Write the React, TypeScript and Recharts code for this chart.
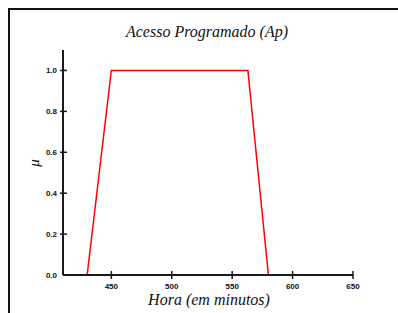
import React from 'react';
import { LineChart, Line, XAxis, YAxis } from 'recharts';

const horaPoints = [430, 450, 563, 580];
const muValues = [0, 1, 1, 0];
const xTicks = [450, 500, 550, 600, 650];
const yTicks = [0, 0.2, 0.4, 0.6, 0.8, 1.0];

const data = horaPoints.map((h, i) => ({ hora: h, mu: muValues[i] }));

const AXIS = '#1a1a1a';
const sans = "'Liberation Sans', Arial, sans-serif";
const serif = "'Liberation Serif', 'Times New Roman', serif";

const XTick = (props: any) => {
  const { x, y, payload } = props;
  return (
    <g>
      <line x1={x} x2={x} y1={y - 4} y2={y + 4} stroke={AXIS} strokeWidth={1.5} />
      <text x={x} y={y + 14} textAnchor="middle" fill="#111" fontFamily={sans} fontSize={8} fontWeight={700}>
        {payload.value}
      </text>
    </g>
  );
};

const YTick = (props: any) => {
  const { x, y, payload } = props;
  return (
    <g>
      {payload.value > 0 && <line x1={x - 3} x2={x + 4} y1={y} y2={y} stroke={AXIS} strokeWidth={1.5} />}
      <text x={x - 6} y={y + 3} textAnchor="end" fill="#111" fontFamily={sans} fontSize={8} fontWeight={700}>
        {Number(payload.value).toFixed(1)}
      </text>
    </g>
  );
};

const App: React.FC = () => {
  return (
    <div style={{ position: 'absolute', left: 0, top: 0, width: 398, height: 313, background: '#fff' }}>
      <div
        style={{
          position: 'absolute',
          left: 8,
          top: 8,
          right: 0,
          bottom: 0,
          borderLeft: '2px solid #111',
          borderTop: '2px solid #111',
        }}
      />
      <LineChart
        width={398}
        height={313}
        data={data}
        margin={{ top: 50, right: 45, bottom: 37, left: 62 }}
        style={{ position: 'absolute', left: 0, top: 0 }}
      >
        <text x={207} y={37} textAnchor="middle" fontFamily={serif} fontStyle="italic" fontSize={16} fill="#111">
          Acesso Programado (Ap)
        </text>
        <text x={209} y={305} textAnchor="middle" fontFamily={serif} fontStyle="italic" fontSize={16} fill="#111">
          Hora (em minutos)
        </text>
        <text
          x={39}
          y={163}
          textAnchor="middle"
          transform="rotate(-90 39 163)"
          fontFamily={serif}
          fontStyle="italic"
          fontSize={15}
          fill="#111"
        >
          μ
        </text>
        <XAxis
          dataKey="hora"
          type="number"
          domain={[410, 650]}
          ticks={xTicks}
          height={1}
          tickSize={0}
          tickMargin={0}
          tickLine={false}
          axisLine={{ stroke: AXIS, strokeWidth: 2 }}
          tick={<XTick />}
          interval={0}
        />
        <YAxis
          type="number"
          domain={[0, 1.1]}
          ticks={yTicks}
          width={1}
          tickSize={0}
          tickMargin={0}
          tickLine={false}
          axisLine={{ stroke: AXIS, strokeWidth: 2 }}
          tick={<YTick />}
          interval={0}
        />
        <Line
          dataKey="mu"
          type="linear"
          stroke="#ff0000"
          strokeWidth={1.5}
          dot={false}
          isAnimationActive={false}
        />
      </LineChart>
    </div>
  );
};

export default App;
